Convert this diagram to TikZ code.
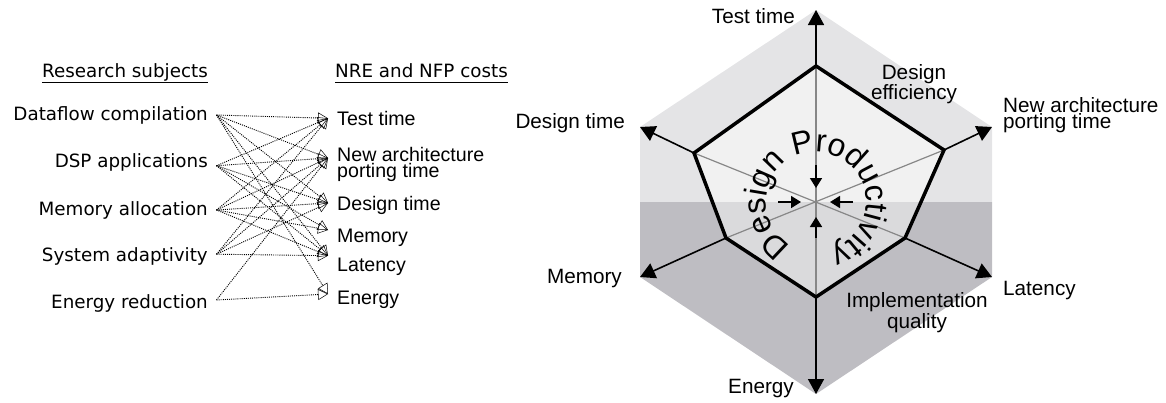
\documentclass[tikz,border=0pt]{standalone}
\usepackage{fontspec}
\newfontfamily\dvs{DejaVu Sans}
\newfontfamily\arl{Liberation Sans}
\usetikzlibrary{arrows.meta,decorations.text}

\definecolor{outerlight}{RGB}{228,228,230}
\definecolor{outerdark}{RGB}{190,189,194}
\definecolor{innerlight}{RGB}{241,241,241}
\definecolor{innerdark}{RGB}{218,218,220}
\definecolor{spoke}{RGB}{135,135,135}

\tikzset{
  srclbl/.style={font=\dvs\fontsize{18.3}{20}\selectfont, inner sep=0pt, anchor=base east},
  hdr/.style={font=\dvs\fontsize{18.3}{20}\selectfont, inner sep=0pt},
  tgtlbl/.style={font=\arl\fontsize{19.6}{15.5}\selectfont, inner sep=0pt, align=left},
  axlbl/.style={font=\arl\fontsize{20.7}{15.5}\selectfont, inner sep=0pt},
  link/.style={line width=0.9pt, dash pattern=on 1pt off 1.1pt,
    -{Triangle[open,length=10pt,width=11pt,line width=0.5pt]}},
  axisarrow/.style={line width=1.6pt, -{Triangle[length=15pt,width=16pt]}},
  inarrow/.style={line width=1.6pt, -{Triangle[length=10pt,width=12pt]}},
  spokeline/.style={draw=spoke, line width=1.2pt},
}

\begin{document}
\begin{tikzpicture}[x=1pt,y=-1pt]
\useasboundingbox (0,0) rectangle (1166,402);

% ---------- research subjects and costs ----------
\node[hdr, anchor=base east] (hsub) at (208,77.7) {Research subjects};
\draw[line width=1pt] ([yshift=-5pt]hsub.base west) -- ([yshift=-5pt]hsub.base east);
\node[hdr, anchor=base west] (hcost) at (335,77.7) {NRE and NFP costs};
\draw[line width=1pt] ([yshift=-5pt]hcost.base west) -- ([yshift=-5pt]hcost.base east);

\node[srclbl] (df)  at (208,120) {Dataflow compilation};
\node[srclbl] (dsp) at (208,167.7) {DSP applications};
\node[srclbl] (mal) at (208,215) {Memory allocation};
\node[srclbl] (sad) at (208,261.7) {System adaptivity};
\node[srclbl] (ere) at (208,308) {Energy reduction};

\node[tgtlbl, anchor=base west] (tt)  at (337,125.5) {Test time};
\node[tgtlbl, anchor=north west] (na) at (337,147.5) {New architecture\\porting time};
\node[tgtlbl, anchor=base west] (dt)  at (337,210) {Design time};
\node[tgtlbl, anchor=base west] (mem) at (337,242.5) {Memory};
\node[tgtlbl, anchor=base west] (lat) at (337,271.7) {Latency};
\node[tgtlbl, anchor=base west] (en)  at (337,304) {Energy};

% start points just right of the subject labels
\coordinate (df-o)  at ([xshift=8.5pt,yshift=5pt]df.base east);
\coordinate (dsp-o) at ([xshift=8.5pt,yshift=2pt]dsp.base east);
\coordinate (mal-o) at ([xshift=8.5pt,yshift=5pt]mal.base east);
\coordinate (sad-o) at ([xshift=8.5pt,yshift=7.5pt]sad.base east);
\coordinate (ere-o) at ([xshift=8.5pt,yshift=8pt]ere.base east);
% arrow tips just left of the cost labels
\coordinate (tt-i)  at ([xshift=-9pt,yshift=7.2pt]tt.base west);
\coordinate (na-i)  at ([xshift=-9pt,yshift=-10.5pt]na.north west);
\coordinate (dt-i)  at ([xshift=-9pt,yshift=7pt]dt.base west);
\coordinate (mem-i) at ([xshift=-9pt,yshift=12.5pt]mem.base west);
\coordinate (lat-i) at ([xshift=-9pt,yshift=16pt]lat.base west);
\coordinate (en-i)  at ([xshift=-9pt,yshift=10pt]en.base west);

\foreach \a/\b in {df/tt, df/na, df/dt, df/lat, df/en,
                   dsp/tt, dsp/na, dsp/dt, dsp/mem, dsp/lat,
                   mal/tt, mal/na, mal/dt, mal/mem, mal/lat,
                   sad/tt, sad/na, sad/dt, sad/lat,
                   ere/na, ere/en}
  \draw[link] (\a-o) -- (\b-i);

% ---------- design productivity chart ----------
\coordinate (C) at (816,202);
\coordinate (O1) at (816,10);
\coordinate (O2) at (992,127);
\coordinate (O3) at (992,277);
\coordinate (O4) at (816,394);
\coordinate (O5) at (640,277);
\coordinate (O6) at (640,127);
\coordinate (I1) at (816,66);
\coordinate (I2) at (944,150);
\coordinate (I3) at (905,238);
\coordinate (I4) at (816,297);
\coordinate (I5) at (726,238);
\coordinate (I6) at (694,153);

\begin{scope}
  \clip (O1) -- (O2) -- (O3) -- (O4) -- (O5) -- (O6) -- cycle;
  \fill[outerlight] (600,0) rectangle (1010,202);
  \fill[outerdark] (600,202) rectangle (1010,402);
\end{scope}
\begin{scope}
  \clip (I1) -- (I2) -- (I3) -- (I4) -- (I5) -- (I6) -- cycle;
  \fill[innerlight] (600,0) rectangle (1010,202);
  \fill[innerdark] (600,202) rectangle (1010,402);
\end{scope}

\draw[spokeline] (I1) -- (I4);
\draw[spokeline] (I2) -- (I5);
\draw[spokeline] (I6) -- (I3);

\foreach \k in {1,...,6}
  \draw[axisarrow] (I\k) -- (O\k);

\draw[line width=3.5pt, line join=miter] (I1) -- (I2) -- (I3) -- (I4) -- (I5) -- (I6) -- cycle;

\draw[inarrow] ([shift={(0,-37)}]C) -- ([shift={(0,-14)}]C);
\draw[inarrow] ([shift={(0,36)}]C) -- ([shift={(0,15)}]C);
\draw[inarrow] ([shift={(-38,0)}]C) -- ([shift={(-15,0)}]C);
\draw[inarrow] ([shift={(37,0)}]C) -- ([shift={(14,0)}]C);

\path[decorate, decoration={text along path, text align=center,
  text={|\arl\fontsize{32}{32}\selectfont|Design Productivity}}]
  ([shift={(115:50)}]C) arc[start angle=115, end angle=439, radius=50];

\node[axlbl, anchor=base east] (ltt) at (795,23) {Test time};
\node[axlbl, anchor=north, align=center] (lde) at (914,64.5) {Design\\efficiency};
\node[axlbl, anchor=north west, align=left, font=\arl\fontsize{20.7}{13.5}\selectfont] (lna) at (1003,97) {New architecture\\porting time};
\node[axlbl, anchor=base east] (ldt) at (625,128.3) {Design time};
\node[axlbl, anchor=base east] (lme) at (622,283) {Memory};
\node[axlbl, anchor=base west] (lla) at (1003,295) {Latency};
\node[axlbl, anchor=north, align=center] (liq) at (917,292.5) {Implementation\\quality};
\node[axlbl, anchor=base east] (len) at (794,393) {Energy};
\end{tikzpicture}
\end{document}
